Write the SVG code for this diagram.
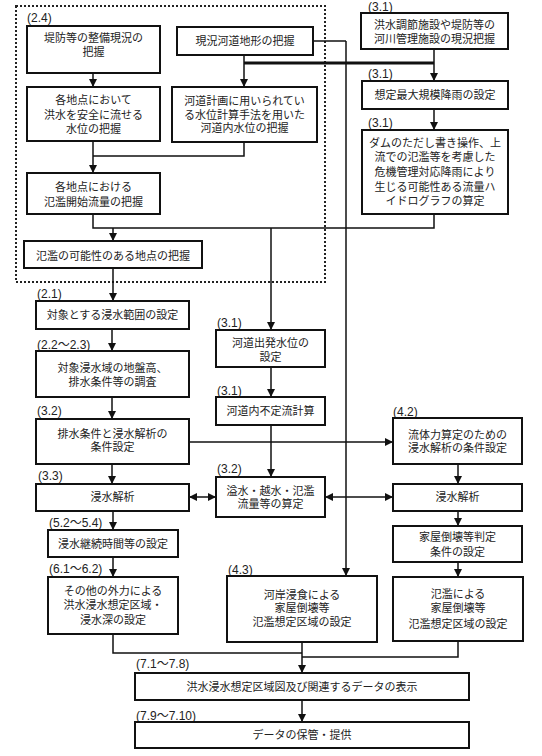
<svg xmlns="http://www.w3.org/2000/svg" width="542" height="756" viewBox="0 0 542 756">
<style>
.box{fill:#fff;stroke:#111;stroke-width:2}
.t{font-family:"Noto Sans CJK JP","Liberation Sans",sans-serif;font-size:11px;fill:#222;text-anchor:middle}
.lb{font-family:"Liberation Sans","Noto Sans CJK JP",sans-serif;font-size:12px;fill:#222}
.c{fill:none;stroke:#111;stroke-width:1.5}
.ca{fill:none;stroke:#111;stroke-width:1.5;marker-end:url(#ah)}
.cd{fill:none;stroke:#111;stroke-width:1.5;marker-end:url(#ah);marker-start:url(#ah)}
</style>
<defs>
<marker id="ah" markerUnits="userSpaceOnUse" markerWidth="8" markerHeight="8" refX="8" refY="4" orient="auto-start-reverse">
<path d="M0,0 L8,4 L0,8 z" fill="#111"/>
</marker>
</defs>
<rect width="542" height="756" fill="#fff"/>
<rect x="16" y="6" width="309" height="276" fill="none" stroke="#222" stroke-width="2" stroke-dasharray="2,2"/>
<g id="connectors">
<path class="ca" d="M244,55 V87"/>
<path d="M244,63 H434" fill="none" stroke="#111" stroke-width="3"/>
<path class="ca" d="M434,49 V81"/>
<path class="ca" d="M434,109 V130"/>
<path class="c" d="M313,41 H346"/>
<path class="ca" d="M346,41 V576"/>
<path class="ca" d="M93,73 V87"/>
<path class="ca" d="M93,141 V173"/>
<path class="c" d="M244,142 V156 H93"/>
<path class="c" d="M93,214 V228 H434 V214"/>
<path class="ca" d="M113,228 V241"/>
<path class="ca" d="M271,228 V330"/>
<path class="ca" d="M113,268 V301"/>
<path class="ca" d="M112,329 V351"/>
<path class="ca" d="M112,397 V419"/>
<path class="ca" d="M112,464 V484"/>
<path class="ca" d="M113,511 V530"/>
<path class="ca" d="M113,557 V577"/>
<path class="ca" d="M271,367 V397"/>
<path class="ca" d="M271,425 V477"/>
<path class="ca" d="M189,442 H393"/>
<path class="cd" d="M189,497 H216"/>
<path class="cd" d="M325,497 H393"/>
<path class="ca" d="M458,464 V484"/>
<path class="ca" d="M458,511 V526"/>
<path class="ca" d="M458,562 V577"/>
<path class="c" d="M113,634 V653 H302"/>
<path class="c" d="M458,641 V657 H302"/>
<path class="ca" d="M302,642 V673"/>
<path class="ca" d="M302,700 V722"/>
</g>
<text class="lb" x="27" y="22">(2.4)</text>
<g id="nA"><rect class="box" x="27" y="26" width="133" height="47"/><text class="t" x="93.5" y="42">堤防等の整備現況の</text><text class="t" x="93.5" y="56">把握</text></g>
<g id="nB"><rect class="box" x="177" y="27" width="136" height="28"/><text class="t" x="245" y="45">現況河道地形の把握</text></g>
<g id="nD"><rect class="box" x="27" y="87" width="133" height="54"/><text class="t" x="93.5" y="104">各地点において</text><text class="t" x="93.5" y="119">洪水を安全に流せる</text><text class="t" x="93.5" y="133">水位の把握</text></g>
<g id="nC"><rect class="box" x="172" y="87" width="145" height="55"/><text class="t" x="244.5" y="105">河道計画に用いられてい</text><text class="t" x="244.5" y="119">る水位計算手法を用いた</text><text class="t" x="244.5" y="132">河道内水位の把握</text></g>
<g id="nE"><rect class="box" x="27" y="173" width="133" height="41"/><text class="t" x="93.5" y="191">各地点における</text><text class="t" x="93.5" y="206">氾濫開始流量の把握</text></g>
<g id="nF"><rect class="box" x="24" y="241" width="178" height="27"/><text class="t" x="113" y="260">氾濫の可能性のある地点の把握</text></g>
<text class="lb" x="368" y="10.5">(3.1)</text>
<g id="nW"><rect class="box" x="361" y="13" width="147" height="36"/><text class="t" x="434.5" y="29">洪水調節施設や堤防等の</text><text class="t" x="434.5" y="43">河川管理施設の現況把握</text></g>
<text class="lb" x="368" y="78">(3.1)</text>
<g id="nX"><rect class="box" x="362" y="81" width="146" height="28"/><text class="t" x="435" y="99">想定最大規模降雨の設定</text></g>
<text class="lb" x="368" y="127">(3.1)</text>
<g id="nY"><rect class="box" x="362" y="130" width="146" height="84"/><text class="t" x="435" y="147">ダムのただし書き操作、上</text><text class="t" x="435" y="161">流での氾濫等を考慮した</text><text class="t" x="435" y="176">危機管理対応降雨により</text><text class="t" x="435" y="191">生じる可能性ある流量ハ</text><text class="t" x="435" y="205">イドログラフの算定</text></g>
<text class="lb" x="37" y="298">(2.1)</text>
<g id="nG"><rect class="box" x="36" y="301" width="153" height="28"/><text class="t" x="112.5" y="319">対象とする浸水範囲の設定</text></g>
<text class="lb" x="37" y="349">(2.2～2.3)</text>
<g id="nH"><rect class="box" x="36" y="351" width="153" height="46"/><text class="t" x="112.5" y="372">対象浸水域の地盤高、</text><text class="t" x="112.5" y="386">排水条件等の調査</text></g>
<text class="lb" x="37" y="415">(3.2)</text>
<g id="nI"><rect class="box" x="36" y="419" width="153" height="45"/><text class="t" x="112.5" y="438">排水条件と浸水解析の</text><text class="t" x="112.5" y="451">条件設定</text></g>
<text class="lb" x="38" y="480">(3.3)</text>
<g id="nJ"><rect class="box" x="36" y="484" width="153" height="27"/><text class="t" x="112.5" y="501">浸水解析</text></g>
<text class="lb" x="49" y="527">(5.2～5.4)</text>
<g id="nK"><rect class="box" x="48" y="530" width="130" height="27"/><text class="t" x="113" y="548">浸水継続時間等の設定</text></g>
<text class="lb" x="49" y="573">(6.1～6.2)</text>
<g id="nL"><rect class="box" x="48" y="577" width="130" height="57"/><text class="t" x="113" y="595">その他の外力による</text><text class="t" x="113" y="609">洪水浸水想定区域・</text><text class="t" x="113" y="624">浸水深の設定</text></g>
<text class="lb" x="217" y="327">(3.1)</text>
<g id="nM"><rect class="box" x="216" y="330" width="109" height="37"/><text class="t" x="270.5" y="347">河道出発水位の</text><text class="t" x="270.5" y="361">設定</text></g>
<text class="lb" x="217" y="395">(3.1)</text>
<g id="nN"><rect class="box" x="216" y="397" width="109" height="28"/><text class="t" x="270.5" y="415">河道内不定流計算</text></g>
<text class="lb" x="217" y="473">(3.2)</text>
<g id="nO"><rect class="box" x="216" y="477" width="109" height="40"/><text class="t" x="270.5" y="495">溢水・越水・氾濫</text><text class="t" x="270.5" y="508">流量等の算定</text></g>
<text class="lb" x="393" y="416">(4.2)</text>
<g id="nP"><rect class="box" x="393" y="418" width="129" height="46"/><text class="t" x="457.5" y="439">流体力算定のための</text><text class="t" x="457.5" y="452">浸水解析の条件設定</text></g>
<g id="nQ"><rect class="box" x="393" y="484" width="129" height="27"/><text class="t" x="457.5" y="501">浸水解析</text></g>
<g id="nR"><rect class="box" x="393" y="526" width="129" height="36"/><text class="t" x="457.5" y="541">家屋倒壊等判定</text><text class="t" x="457.5" y="556">条件の設定</text></g>
<g id="nS"><rect class="box" x="393" y="577" width="130" height="64"/><text class="t" x="458" y="598">氾濫による</text><text class="t" x="458" y="612">家屋倒壊等</text><text class="t" x="458" y="628">氾濫想定区域の設定</text></g>
<text class="lb" x="228" y="574">(4.3)</text>
<g id="nT"><rect class="box" x="227" y="576" width="150" height="66"/><text class="t" x="302" y="599">河岸浸食による</text><text class="t" x="302" y="612">家屋倒壊等</text><text class="t" x="302" y="626">氾濫想定区域の設定</text></g>
<text class="lb" x="136" y="668">(7.1～7.8)</text>
<g id="nU"><rect class="box" x="135" y="673" width="334" height="27"/><text class="t" x="302" y="691">洪水浸水想定区域図及び関連するデータの表示</text></g>
<text class="lb" x="136" y="720">(7.9～7.10)</text>
<g id="nV"><rect class="box" x="135" y="722" width="334" height="26"/><text class="t" x="302" y="739">データの保管・提供</text></g>
</svg>
